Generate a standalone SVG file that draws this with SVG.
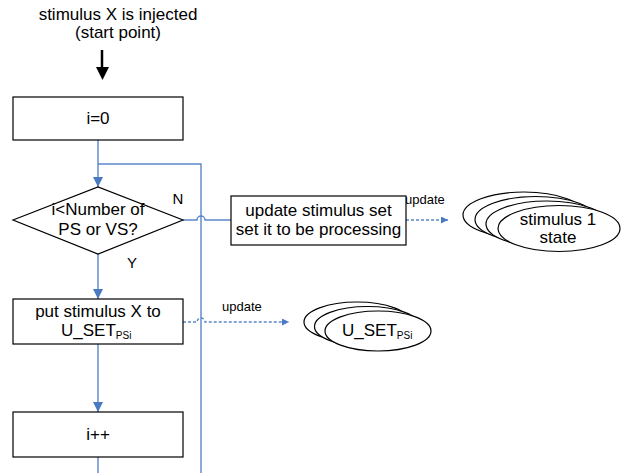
<svg xmlns="http://www.w3.org/2000/svg" width="621" height="473" viewBox="0 0 621 473">
<defs>
<style>
text{font-family:"Liberation Sans",Arial,sans-serif;fill:#000}
.t{font-size:17px;text-anchor:middle}
.s{font-size:13px}
.sub{font-size:10px}
.box{fill:#fff;stroke:#000;stroke-width:1.2}
.ell{fill:#fff;stroke:#000;stroke-width:1.2}
.ln{fill:none;stroke:#5B87C9;stroke-width:1.4}
.dash{fill:none;stroke:#5B87C9;stroke-width:1.4;stroke-dasharray:3 2}
</style>
<marker id="ah" viewBox="0 0 10 10" refX="10" refY="5" markerWidth="7" markerHeight="7" markerUnits="userSpaceOnUse" orient="auto">
<path d="M0,0 L10,5 L0,10 z" fill="#4A7AC4"/>
</marker>
<marker id="ah2" viewBox="0 0 10 10" refX="10" refY="5" markerWidth="10" markerHeight="10" markerUnits="userSpaceOnUse" orient="auto">
<path d="M0,0 L10,5 L0,10 z" fill="#4A7AC4"/>
</marker>
</defs>
<rect width="621" height="473" fill="#fff"/>

<g id="start">
<text class="t" x="118" y="20">stimulus X is injected</text>
<text class="t" x="118" y="38">(start point)</text>
<line x1="102" y1="50" x2="102" y2="69" stroke="#000" stroke-width="2.5"/>
<path d="M96,67 L109,67 L102.5,80 z" fill="#000"/>
</g>

<g id="connectors">
<path class="ln" d="M98,140 V187" marker-end="url(#ah2)"/>
<path class="ln" d="M98,164 H201 V473"/>
<path class="ln" d="M183,220 H197 A4,4 0 0 1 205,220 H231"/>
<path class="ln" d="M98,254 V299" marker-end="url(#ah2)"/>
<path class="ln" d="M98,344 V412" marker-end="url(#ah2)"/>
<path class="ln" d="M98,457 V473"/>
<path class="dash" d="M406,220 H448" marker-end="url(#ah)"/>
<path class="dash" d="M183,322 H197 A4,4 0 0 1 205,322 H289" marker-end="url(#ah)"/>
<text class="s" x="405" y="204">update</text>
<text class="s" x="222" y="311">update</text>
<text class="t" x="178" y="204" style="font-size:15px">N</text>
<text class="t" x="132" y="268" style="font-size:15px">Y</text>
</g>

<g id="init">
<rect class="box" x="13" y="97" width="170" height="43"/>
<text class="t" x="98" y="124">i=0</text>
</g>

<g id="decision">
<path class="box" d="M13,220 L98,187 L183,220 L98,254 z"/>
<text class="t" x="98" y="215">i&lt;Number of</text>
<text class="t" x="98" y="235">PS or VS?</text>
</g>

<g id="update-set">
<rect class="box" x="231" y="196" width="175" height="49"/>
<text class="t" x="318.5" y="216">update stimulus set</text>
<text class="t" x="318.5" y="235">set it to be processing</text>
</g>

<g id="stimulus-state">
<ellipse class="ell" cx="524" cy="215" rx="61" ry="23"/>
<ellipse class="ell" cx="536" cy="219.5" rx="61" ry="23"/>
<ellipse class="ell" cx="547" cy="224" rx="61" ry="23"/>
<ellipse class="ell" cx="559" cy="228.5" rx="61" ry="23"/>
<text class="t" x="558" y="225">stimulus 1</text>
<text class="t" x="558" y="243">state</text>
</g>

<g id="put">
<rect class="box" x="13" y="299" width="170" height="45"/>
<text class="t" x="98" y="317">put stimulus X to</text>
<text x="61" y="336" style="font-size:17px">U_SET<tspan class="sub" dy="3">PSi</tspan></text>
</g>

<g id="uset">
<ellipse class="ell" cx="357" cy="322" rx="53" ry="20"/>
<ellipse class="ell" cx="367.5" cy="326.5" rx="53" ry="20"/>
<ellipse class="ell" cx="378" cy="331" rx="53" ry="20"/>
<text x="342" y="336" style="font-size:17px">U_SET<tspan class="sub" dy="3">PSi</tspan></text>
</g>

<g id="incr">
<rect class="box" x="13" y="412" width="170" height="45"/>
<text class="t" x="98" y="440">i++</text>
</g>
</svg>
